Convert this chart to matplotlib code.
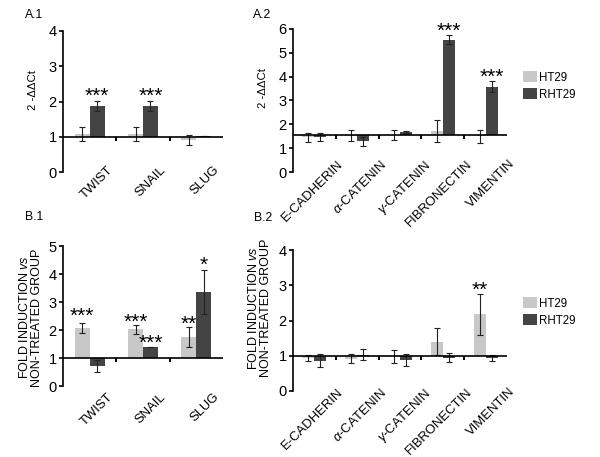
import matplotlib
matplotlib.use("Agg")
import matplotlib.pyplot as plt
import matplotlib.transforms as mtransforms
from matplotlib.patches import Patch

plt.rcParams["font.family"] = ["Liberation Sans", "DejaVu Sans"]
plt.rcParams["mathtext.fontset"] = "custom"
plt.rcParams["mathtext.rm"] = "Liberation Sans"
plt.rcParams["mathtext.it"] = "Liberation Sans:italic"

HT_COLOR = "#c8c8c8"
RH_COLOR = "#444444"

# A.1 - EMT transcription factors, 2^-ddCt
GENES_A1 = ["TWIST", "SNAIL", "SLUG"]
A1_HT29 = [1.07, 1.07, 0.91]
A1_HT29_ERR = [0.20, 0.20, 0.13]
A1_RHT29 = [1.87, 1.87, 1.02]
A1_RHT29_ERR = [0.14, 0.14, 0.01]
A1_STARS = [(0, "r", "***", 2.27), (1, "r", "***", 2.27)]

# A.2 - EMT markers, 2^-ddCt (baseline drawn at 1.55 on this panel's axis)
GENES_A2 = ["E-CADHERIN", r"$\alpha$-CATENIN", r"$\gamma$-CATENIN",
            "FIBRONECTIN", "VIMENTIN"]
A2_BASE = 1.55
A2_HT29 = [1.45, 1.52, 1.55, 1.71, 1.50]
A2_HT29_ERR = [0.20, 0.24, 0.21, 0.47, 0.27]
A2_RHT29 = [1.47, 1.28, 1.69, 5.55, 3.58]
A2_RHT29_ERR = [0.16, 0.20, 0.05, 0.18, 0.23]
A2_STARS = [(3, "r", "***", 6.05), (4, "r", "***", 4.15)]

# B.1 - fold induction vs non-treated group
B1_HT29 = [2.08, 2.02, 1.76]
B1_HT29_ERR = [0.17, 0.17, 0.35]
B1_RHT29 = [0.72, 1.39, 3.36]
B1_RHT29_ERR = [0.21, 0.01, 0.78]
B1_STARS = [(0, "h", "***", 2.62), (1, "h", "***", 2.43), (1, "r", "***", 1.68),
            (2, "h", "**", 2.36), (2, "r", "*", 4.47)]

# B.2
B2_HT29 = [0.93, 0.92, 0.98, 1.40, 2.18]
B2_HT29_ERR = [0.08, 0.13, 0.18, 0.38, 0.58]
B2_RHT29 = [0.86, 1.03, 0.88, 0.95, 0.93]
B2_RHT29_ERR = [0.18, 0.15, 0.17, 0.12, 0.08]
B2_STARS = [(4, "h", "**", 2.96)]

BAR_W = 0.28
YLABEL_A = "2 -ΔΔCt"
YLABEL_B = "FOLD INDUCTION $\\mathit{vs}$\nNON-TREATED GROUP"


def px_shift(fig, dx, dy):
    return mtransforms.ScaledTranslation(dx / fig.dpi, dy / fig.dpi,
                                         fig.dpi_scale_trans)


def draw_panel(ax, genes, ht, ht_err, rh, rh_err, base, ylim, stars,
               ylabel, ylabel_size, label_xy, lab_off):
    fig = ax.figure
    n = len(genes)
    centers = [i + 0.5 for i in range(n)]
    x_ht = [c - BAR_W / 2 for c in centers]
    x_rh = [c + BAR_W / 2 for c in centers]

    ht_h = [v - base for v in ht]
    rh_h = [v - base for v in rh]
    ax.bar(x_ht, ht_h, BAR_W, bottom=base, color=HT_COLOR, zorder=2)
    ax.bar(x_rh, rh_h, BAR_W, bottom=base, color=RH_COLOR, zorder=2)
    ekw = dict(fmt="none", ecolor="#222222", elinewidth=0.8, capsize=2.2,
               capthick=0.8, zorder=3)
    ax.errorbar(x_ht, ht, yerr=ht_err, **ekw)
    ax.errorbar(x_rh, rh, yerr=rh_err, **ekw)

    # baseline acting as x axis, with small ticks between groups
    ax.axhline(base, color="black", lw=1.2, zorder=4)
    ax.plot(range(1, n), [base] * (n - 1), ls="none", marker=3,
            markersize=3, mew=1.4, color="black", zorder=4)

    star_tr = ax.transData + px_shift(fig, 0, -4)
    for idx, series, txt, y in stars:
        x = x_rh[idx] if series == "r" else x_ht[idx]
        ax.text(x, y, txt, ha="center", va="center", fontsize=15,
                transform=star_tr, clip_on=False, zorder=5)

    ax.set_xlim(0, n)
    ax.set_ylim(*ylim)
    ax.set_yticks(range(int(ylim[0]), int(ylim[1]) + 1))
    ax.tick_params(axis="y", labelsize=10.5, length=3, width=1.2, pad=1.5)

    ax.set_xticks(centers)
    ax.set_xticklabels(genes, rotation=45, ha="right",
                       rotation_mode="anchor", fontsize=9.4)
    ax.tick_params(axis="x", length=0, pad=2)
    offset = px_shift(fig, *lab_off)
    for lab in ax.get_xticklabels():
        lab.set_transform(lab.get_transform() + offset)

    for side in ("top", "right", "bottom"):
        ax.spines[side].set_visible(False)
    ax.spines["left"].set_linewidth(1.2)

    ax.set_ylabel(ylabel, fontsize=ylabel_size, linespacing=1.0)
    ax.yaxis.set_label_coords(*label_xy)


def main():
    fig = plt.figure(figsize=(6.0, 4.57), dpi=100)
    W, H = 600.0, 457.0

    def axes_px(x0, x1, ytop, ybot):
        return fig.add_axes([x0 / W, 1 - ybot / H, (x1 - x0) / W, (ybot - ytop) / H])

    ax_a1 = axes_px(63, 223, 31, 172)
    ax_a2 = axes_px(293, 507, 29, 172)
    ax_b1 = axes_px(63, 223, 246, 386)
    ax_b2 = axes_px(293, 507, 250, 391)

    draw_panel(ax_a1, GENES_A1, A1_HT29, A1_HT29_ERR, A1_RHT29, A1_RHT29_ERR,
               1.0, (0, 4), A1_STARS, YLABEL_A, 8.2, (-0.156, 0.58), (17, 11))
    draw_panel(ax_a2, GENES_A2, A2_HT29, A2_HT29_ERR, A2_RHT29, A2_RHT29_ERR,
               A2_BASE, (0, 6), A2_STARS, YLABEL_A, 8.2, (-0.117, 0.59), (23, 17))
    draw_panel(ax_b1, GENES_A1, B1_HT29, B1_HT29_ERR, B1_RHT29, B1_RHT29_ERR,
               1.0, (0, 5), B1_STARS, YLABEL_B, 9, (-0.125, 0.49), (17, -2))
    draw_panel(ax_b2, GENES_A2, B2_HT29, B2_HT29_ERR, B2_RHT29, B2_RHT29_ERR,
               1.0, (0, 4), B2_STARS, YLABEL_B, 9, (-0.098, 0.59), (23, 8))

    handles = [Patch(facecolor=HT_COLOR, edgecolor="none", label="HT29"),
               Patch(facecolor=RH_COLOR, edgecolor="none", label="RHT29")]
    for ytop in (71, 297):
        fig.legend(handles=handles, loc="upper left",
                   bbox_to_anchor=(523 / W, 1 - ytop / H), frameon=False,
                   fontsize=8.3, handlelength=1.2, handleheight=1.13,
                   handletextpad=0.2, labelspacing=0.4, borderpad=0,
                   borderaxespad=0)

    for txt, x, y in [("A.1", 25, 15), ("A.2", 253, 15),
                      ("B.1", 25, 217), ("B.2", 254, 218)]:
        fig.text(x / W, 1 - y / H, txt, fontsize=8.8, va="center", ha="left")

    fig.savefig("out.png", dpi=100)
    plt.close(fig)


if __name__ == "__main__":
    main()
